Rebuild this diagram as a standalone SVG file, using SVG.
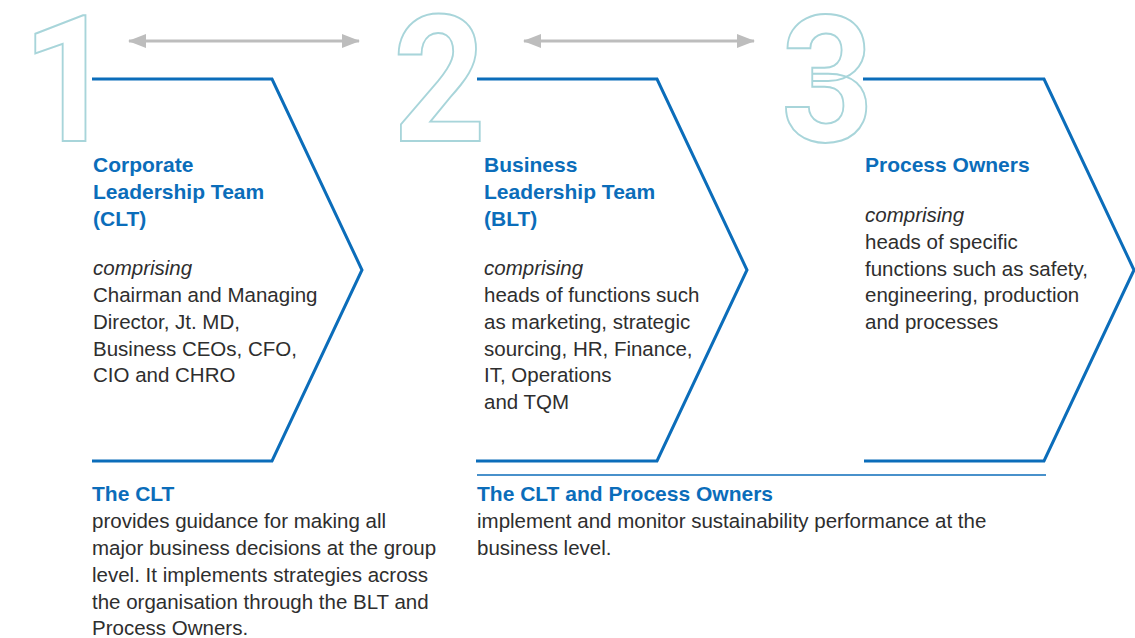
<svg xmlns="http://www.w3.org/2000/svg" width="1135" height="638" viewBox="0 0 1135 638">
  <style>
    .digit { font-family: Roboto, "Liberation Sans", sans-serif; font-weight: bold; font-size: 180px; fill: none; stroke: #a8d5da; stroke-width: 2; }
    .chev { fill: none; stroke: #0b6dba; stroke-width: 3; stroke-linejoin: miter; }
    .title { font-family: "Liberation Sans", Arial, sans-serif; font-weight: bold; font-size: 21px; fill: #0b6dba; }
    .body { font-family: "Liberation Sans", Arial, sans-serif; font-size: 20.5px; fill: #2e2e2e; }
    .em { font-style: italic; }
    .link { stroke: #bdbdbd; stroke-width: 3; fill: none; }
    .rule { stroke: #0b6dba; stroke-width: 1.5; }
  </style>
  <defs>
    <marker id="head" viewBox="0 0 18 14" refX="17" refY="7" markerWidth="18" markerHeight="14" markerUnits="userSpaceOnUse" orient="auto-start-reverse">
      <path d="M0,0 L18,7 L0,14 Z" fill="#bdbdbd"/>
    </marker>
  </defs>

  <!-- two-way links between the stages -->
  <g id="connectors">
    <line class="link" x1="129" y1="41" x2="359" y2="41" marker-start="url(#head)" marker-end="url(#head)"/>
    <line class="link" x1="524" y1="41" x2="754" y2="41" marker-start="url(#head)" marker-end="url(#head)"/>
  </g>

  <!-- stage 1 -->
  <g id="stage-clt">
    <text class="digit" transform="translate(22,141) scale(0.9,0.98)">1</text>
    <path class="chev" d="M92,79 H272 L362,270 L272,461 H92"/>
    <text class="title" x="93" y="172">Corporate</text>
    <text class="title" x="93" y="199">Leadership Team</text>
    <text class="title" x="93" y="226">(CLT)</text>
    <text class="body em" x="93" y="275">comprising</text>
    <text class="body" x="93" y="302">Chairman and Managing</text>
    <text class="body" x="93" y="329">Director, Jt. MD,</text>
    <text class="body" x="93" y="355.5">Business CEOs, CFO,</text>
    <text class="body" x="93" y="382">CIO and CHRO</text>
  </g>

  <!-- stage 2 -->
  <g id="stage-blt">
    <text class="digit" transform="translate(393,141) scale(0.9,0.98)">2</text>
    <path class="chev" d="M477,79 H657 L747,270 L657,461 H476"/>
    <text class="title" x="484" y="172">Business</text>
    <text class="title" x="484" y="199">Leadership Team</text>
    <text class="title" x="484" y="226">(BLT)</text>
    <text class="body em" x="484" y="275">comprising</text>
    <text class="body" x="484" y="302">heads of functions such</text>
    <text class="body" x="484" y="329">as marketing, strategic</text>
    <text class="body" x="484" y="355.5">sourcing, HR, Finance,</text>
    <text class="body" x="484" y="382">IT, Operations</text>
    <text class="body" x="484" y="409">and TQM</text>
  </g>

  <!-- stage 3 -->
  <g id="stage-owners">
    <text class="digit" transform="translate(781,141) scale(0.9,0.98)">3</text>
    <path class="chev" d="M863,79 H1044 L1134,270 L1044,461 H864"/>
    <text class="title" x="865" y="172">Process Owners</text>
    <text class="body em" x="865" y="221.5">comprising</text>
    <text class="body" x="865" y="249">heads of specific</text>
    <text class="body" x="865" y="275.5">functions such as safety,</text>
    <text class="body" x="865" y="302">engineering, production</text>
    <text class="body" x="865" y="329">and processes</text>
  </g>

  <!-- role of the CLT -->
  <g id="note-clt">
    <text class="title" x="92" y="501">The CLT</text>
    <text class="body" x="92" y="528">provides guidance for making all</text>
    <text class="body" x="92" y="555">major business decisions at the group</text>
    <text class="body" x="92" y="582">level. It implements strategies across</text>
    <text class="body" x="92" y="608.5">the organisation through the BLT and</text>
    <text class="body" x="92" y="635">Process Owners.</text>
  </g>

  <!-- role of the CLT and process owners -->
  <g id="note-owners">
    <line class="rule" x1="477" y1="475" x2="1046" y2="475"/>
    <text class="title" x="477" y="501">The CLT and Process Owners</text>
    <text class="body" x="477" y="528">implement and monitor sustainability performance at the</text>
    <text class="body" x="477" y="555">business level.</text>
  </g>
</svg>
